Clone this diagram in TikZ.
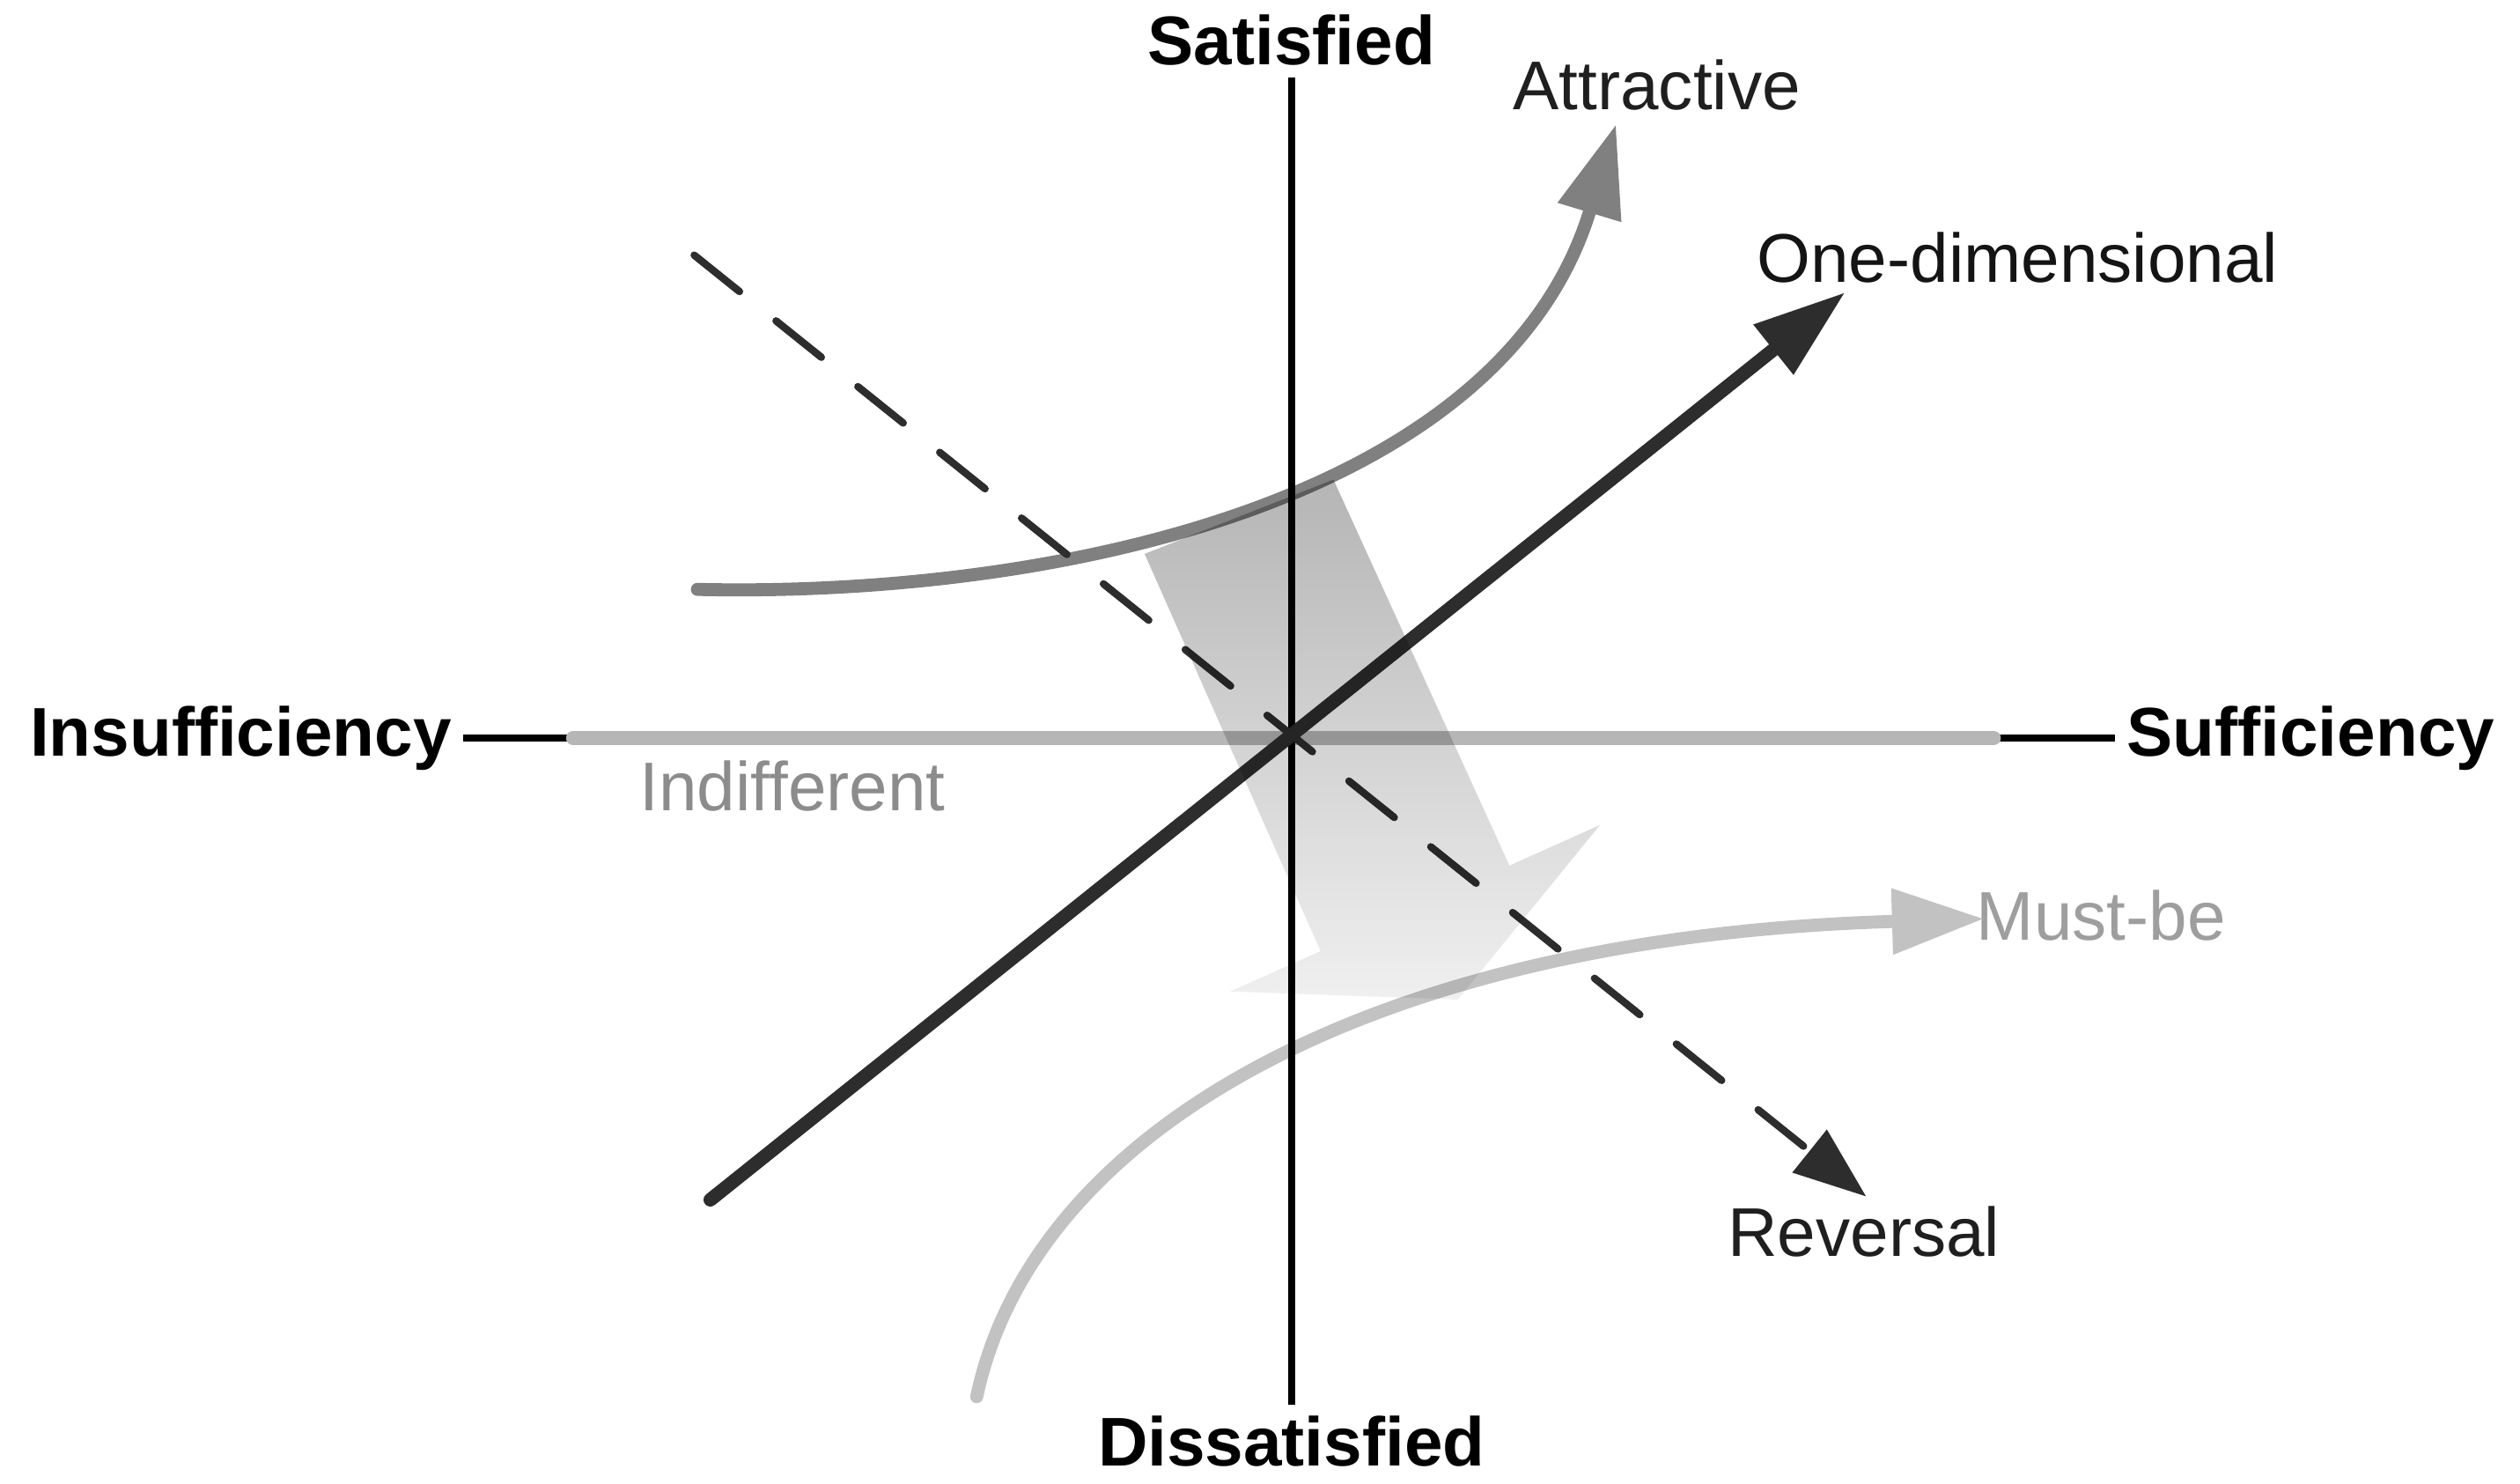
\documentclass[tikz,border=0pt]{standalone}
\usepackage{fontspec}
\setmainfont{Liberation Sans}
\usetikzlibrary{arrows.meta}

\definecolor{darkline}{HTML}{2D2D2D}
\definecolor{attrgray}{HTML}{808080}
\definecolor{mustgray}{HTML}{C2C2C2}
\definecolor{indgray}{HTML}{B6B6B6}

\begin{document}
\begin{tikzpicture}[x=0.2mm, y=-0.2mm,
    axislabel/.style = {font=\fontsize{24.3}{29}\selectfont\bfseries, inner sep=4pt},
    curvelabel/.style = {font=\fontsize{24.3}{29}\selectfont, inner sep=0pt, anchor=base west},
    axisline/.style = {line width=2.4pt, black},
    bigtip/.style = {-{Triangle[length=1.14cm, width=0.78cm]}},
    smalltip/.style = {-{Triangle[length=0.9cm, width=0.66cm]}}]
    \useasboundingbox (0,0) rectangle (1561,919);

    % axis labels
    \node[axislabel, anchor=base] (sat) at (800,40) {Satisfied};
    \node[axislabel, anchor=base] (dissat) at (800,908) {Dissatisfied};
    \node[axislabel, anchor=east] (insuf) at (287,457) {Insufficiency};
    \node[axislabel, anchor=west] (suf) at (1310,457) {Sufficiency};

    % curve labels
    \node[curvelabel, text=black!88] (attr) at (937,68) {Attractive};
    \node[curvelabel, text=black!92] (onedim) at (1088,175) {One-dimensional};
    \node[curvelabel, text=black!88] (rev) at (1070,778) {Reversal};
    \node[curvelabel, text=black!38] (must) at (1224,582) {Must-be};
    \node[curvelabel, text=black!45] (indif) at (396,502) {Indifferent};

    \coordinate (indL) at (355,457);
    \coordinate (indR) at (1235,457);
    \coordinate (odS) at (440,743);
    \coordinate (odE) at (1143,181);
    \coordinate (revS) at (430,158);
    \coordinate (revE) at (1156,741);
    \coordinate (attS) at (432,365);
    \coordinate (attE) at (1001,77);
    \coordinate (musS) at (605,865);
    \coordinate (musE) at (1229,569);

    \draw[axisline] (insuf) -- (suf);
    \draw[indgray, line width=5pt, line cap=round] (indL) -- (indR);

    \draw[attrgray, line width=4.6pt, line cap=round, bigtip] (attS) .. controls (650,370) and (930,312) .. (attE);
    \draw[mustgray, line width=4.6pt, line cap=round, bigtip] (musS) .. controls (640,700) and (850,580) .. (musE);

    \draw[axisline] (sat) -- (dissat);

    \draw[darkline, line width=2.6pt, line cap=round, dash pattern=on 20.5pt off 16.5pt, smalltip] (revS) -- (revE);
    \draw[darkline, line width=4.8pt, line cap=round, -{Triangle[length=1.14cm, width=0.75cm]}] (odS) -- (odE);

    % shift arrow
    \begin{scope}[blend mode=multiply]
        \shade[top color=black!29, bottom color=black!6]
            (709,343) -- (818,589) -- (762,614) -- (903,619) -- (991,511) -- (935,536) -- (826,297) -- cycle;
    \end{scope}
\end{tikzpicture}
\end{document}
